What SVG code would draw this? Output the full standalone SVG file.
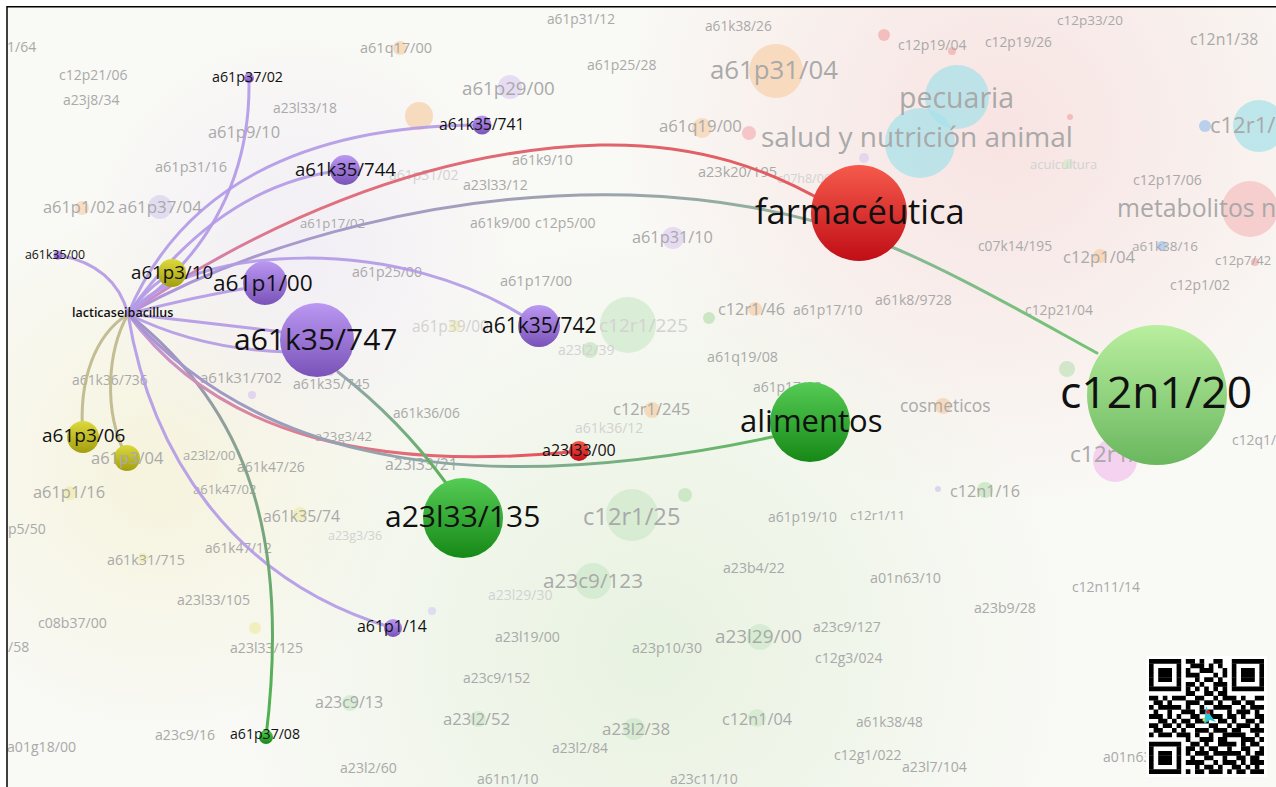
<svg xmlns="http://www.w3.org/2000/svg" width="1276" height="787" viewBox="0 0 1276 787">
<style>
.t{font-family:"Open Sans","Liberation Sans",Arial,sans-serif}
.f{fill:#a9a9a9}
.ff{fill:#d2d2d2}
.k{fill:#111}
.e{fill:none;stroke-linecap:round}
.pu{stroke:#b39ae6;stroke-width:3;opacity:.92}
.ol{stroke:#bcb78a;stroke-width:3;opacity:.9}
</style>
<defs>
<clipPath id="clip"><rect x="7" y="6" width="1269" height="781"/></clipPath>
<linearGradient id="gP" x1="0" y1="0" x2="0" y2="1"><stop offset="0" stop-color="#bb98f3"/><stop offset="1" stop-color="#7a52b8"/></linearGradient>
<linearGradient id="gY" x1="0" y1="0" x2="0" y2="1"><stop offset="0" stop-color="#dcd93c"/><stop offset="1" stop-color="#a39e10"/></linearGradient>
<linearGradient id="gG" x1="0" y1="0" x2="0" y2="1"><stop offset="0" stop-color="#55cc55"/><stop offset="1" stop-color="#168816"/></linearGradient>
<linearGradient id="gR" x1="0" y1="0" x2="0" y2="1"><stop offset="0" stop-color="#f65a4c"/><stop offset="1" stop-color="#c00e16"/></linearGradient>
<linearGradient id="gL" x1="0" y1="0" x2="0" y2="1"><stop offset="0" stop-color="#b9ef9f"/><stop offset="1" stop-color="#6ab75e"/></linearGradient>
<radialGradient id="hPink"><stop offset="0" stop-color="#f7dcdc" stop-opacity=".75"/><stop offset="1" stop-color="#f7dcdc" stop-opacity="0"/></radialGradient>
<radialGradient id="hYel"><stop offset="0" stop-color="#f4f1d2" stop-opacity=".7"/><stop offset="1" stop-color="#f4f1d2" stop-opacity="0"/></radialGradient>
<radialGradient id="hGrn"><stop offset="0" stop-color="#e4f1dc" stop-opacity=".8"/><stop offset="1" stop-color="#e4f1dc" stop-opacity="0"/></radialGradient>
<radialGradient id="hLav"><stop offset="0" stop-color="#efe9f6" stop-opacity=".7"/><stop offset="1" stop-color="#efe9f6" stop-opacity="0"/></radialGradient>
<linearGradient id="eGray" gradientUnits="userSpaceOnUse" x1="128" y1="314" x2="1097" y2="353"><stop offset="0" stop-color="#ad94de"/><stop offset=".45" stop-color="#9ea2b0"/><stop offset=".8" stop-color="#86b892"/><stop offset="1" stop-color="#72c472"/></linearGradient>
<linearGradient id="eAli" gradientUnits="userSpaceOnUse" x1="128" y1="314" x2="772" y2="437"><stop offset="0" stop-color="#a894d8"/><stop offset=".5" stop-color="#8fa6a4"/><stop offset="1" stop-color="#62b862"/></linearGradient>
<linearGradient id="eP37" gradientUnits="userSpaceOnUse" x1="128" y1="314" x2="266" y2="737"><stop offset="0" stop-color="#a592d0"/><stop offset=".3" stop-color="#8fa09a"/><stop offset="1" stop-color="#4cb24c"/></linearGradient>
<linearGradient id="eRed1" gradientUnits="userSpaceOnUse" x1="128" y1="314" x2="830" y2="205"><stop offset="0" stop-color="#c891d4"/><stop offset=".25" stop-color="#df7282"/><stop offset="1" stop-color="#e25a5e"/></linearGradient>
<linearGradient id="eRed2" gradientUnits="userSpaceOnUse" x1="128" y1="314" x2="570" y2="452"><stop offset="0" stop-color="#c39ad8"/><stop offset=".4" stop-color="#dd8090"/><stop offset="1" stop-color="#e8505a"/></linearGradient>
<linearGradient id="e747" gradientUnits="userSpaceOnUse" x1="338" y1="372" x2="446" y2="483"><stop offset="0" stop-color="#98a6ae"/><stop offset="1" stop-color="#5cb25c"/></linearGradient>
</defs>

<rect width="1276" height="787" fill="#ffffff"/>
<g clip-path="url(#clip)">
<rect x="7" y="6" width="1269" height="781" fill="#f9f9f5"/>
<g id="background-haze">
<circle cx="1000" cy="130" r="380" fill="url(#hPink)"/>
<circle cx="160" cy="470" r="260" fill="url(#hYel)"/>
<circle cx="650" cy="650" r="420" fill="url(#hGrn)"/>
<circle cx="300" cy="250" r="220" fill="url(#hLav)"/>
</g>

<g id="faded-nodes">
<g id="n-a61q17-00"><circle cx="400" cy="48" r="7" fill="#f6c89a" opacity=".6"/><circle cx="419" cy="116" r="14" fill="#f6c89a" opacity=".6"/><text class="t f" x="360" y="53" font-size="14.5">a61q17/00</text></g>
<g id="n-a61p31-04"><circle cx="776" cy="71" r="27" fill="#f7c998" opacity=".55"/><text class="t f" x="710" y="79" font-size="25.8">a61p31/04</text></g>
<g id="n-a61p29-00"><circle cx="510" cy="87" r="12" fill="#d8c8f2" opacity=".6"/><text class="t f" x="462" y="95" font-size="18.7">a61p29/00</text></g>
<g id="n-a61q19-00"><circle cx="702" cy="128" r="10" fill="#f6c89a" opacity=".55"/><circle cx="749" cy="133" r="7" fill="#f4a0a8" opacity=".55"/><text class="t f" x="659" y="132" font-size="16.7">a61q19/00</text></g>
<g id="n-a61p37-04"><circle cx="160" cy="207" r="12" fill="#d6cbef" opacity=".6"/><text class="t f" x="118" y="213" font-size="16.9">a61p37/04</text></g>
<g id="n-a61p1-02"><circle cx="82" cy="208" r="7" fill="#f6c89a" opacity=".55"/><text class="t f" x="43" y="213" font-size="16.4">a61p1/02</text></g>
<g id="n-pecuaria"><circle cx="957" cy="97" r="32" fill="#a9e2ea" opacity=".75"/><circle cx="920" cy="143" r="35" fill="#a9e2ea" opacity=".75"/><text class="t f" x="899" y="108" font-size="28.5">pecuaria</text></g>
<g id="n-salud"><text class="t f" x="761" y="147" font-size="28">salud y nutrición animal</text></g>
<g id="n-acuicultura"><circle cx="1068" cy="164" r="5" fill="#c8ecc0" opacity=".6"/><text class="t ff" x="1030" y="169" font-size="13">acuicultura</text></g>
<g id="n-c12r1-right"><circle cx="1259" cy="126" r="26" fill="#a9e2ea" opacity=".75"/><circle cx="1205" cy="126" r="6" fill="#a8c8ec" opacity=".8"/><text class="t f" x="1210" y="133" font-size="22">c12r1/</text></g>
<g id="n-metabolitos"><circle cx="1250" cy="209" r="28" fill="#f4c2c2" opacity=".75"/><text class="t f" x="1117" y="217" font-size="24.8">metabolitos n</text></g>
<g id="n-reddots"><circle cx="884" cy="35" r="6" fill="#f2a0a0" opacity=".6"/><circle cx="952" cy="51" r="4" fill="#f2a0a0" opacity=".6"/><circle cx="1070" cy="117" r="3" fill="#f2a0a0" opacity=".6"/><circle cx="1255" cy="262" r="4" fill="#f2a0a0" opacity=".6"/><circle cx="864" cy="158" r="5" fill="#d8c8f2" opacity=".6"/></g>
<g id="n-c12p1-04"><circle cx="1100" cy="256" r="7" fill="#f6c89a" opacity=".6"/><text class="t f" x="1063" y="263" font-size="16.7">c12p1/04</text></g>
<g id="n-a61k38-16"><circle cx="1162" cy="246" r="5" fill="#a8c8ec" opacity=".8"/><text class="t f" x="1132" y="251" font-size="13.5">a61k38/16</text></g>
<g id="n-a61p31-10"><circle cx="673" cy="238" r="11" fill="#d8c8f2" opacity=".6"/><text class="t f" x="632" y="243" font-size="16.3">a61p31/10</text></g>
<g id="n-c12r1-225"><circle cx="628" cy="325" r="28" fill="#c8e6c4" opacity=".6"/><text class="t ff" x="599" y="332" font-size="19">c12r1/225</text></g>
<g id="n-c12r1-46"><circle cx="755" cy="309" r="7" fill="#f6c89a" opacity=".6"/><circle cx="709" cy="318" r="6" fill="#b8e0b0" opacity=".7"/><text class="t f" x="718" y="315" font-size="16.3">c12r1/46</text></g>
<g id="n-a61p39-00"><circle cx="455" cy="326" r="6" fill="#eeeaa0" opacity=".6"/><text class="t ff" x="412" y="332" font-size="15.5">a61p39/00</text></g>
<g id="n-a23l2-39"><circle cx="590" cy="350" r="8" fill="#b8e0b0" opacity=".55"/><text class="t ff" x="558" y="355" font-size="14">a23l2/39</text></g>
<g id="n-c12r1-245"><circle cx="652" cy="410" r="8" fill="#f6c89a" opacity=".6"/><text class="t f" x="613" y="415" font-size="16.5">c12r1/245</text></g>
<g id="n-cosmeticos"><circle cx="943" cy="406" r="8" fill="#f6c89a" opacity=".6"/><text class="t f" x="900" y="412" font-size="17.4">cosmeticos</text></g>
<g id="n-c12r1-01"><circle cx="1115" cy="460" r="22" fill="#f2c6ef" opacity=".75"/><text class="t f" x="1070" y="462" font-size="22.7">c12r1/01</text></g>
<g id="n-c12n1-16"><circle cx="985" cy="490" r="8" fill="#b8e0b0" opacity=".6"/><circle cx="938" cy="489" r="3" fill="#c8c0ec" opacity=".6"/><text class="t f" x="950" y="497" font-size="16.2">c12n1/16</text></g>
<g id="n-c12r1-25"><circle cx="632" cy="515" r="26" fill="#c8e6c4" opacity=".6"/><circle cx="685" cy="495" r="7" fill="#b8e0b0" opacity=".6"/><text class="t f" x="583" y="525" font-size="23.7">c12r1/25</text></g>
<g id="n-c12n-green"><circle cx="1067" cy="369" r="8" fill="#b8e0b0" opacity=".6"/></g>
<g id="n-a23c9-123"><circle cx="593" cy="581" r="18" fill="#c8e6c4" opacity=".6"/><text class="t f" x="543" y="588" font-size="20.7">a23c9/123</text></g>
<g id="n-a23l29-00"><circle cx="760" cy="637" r="13" fill="#c8e6c4" opacity=".6"/><text class="t f" x="715" y="643" font-size="18.9">a23l29/00</text></g>
<g id="n-c12n1-04"><circle cx="757" cy="718" r="9" fill="#c8e6c4" opacity=".6"/><text class="t f" x="722" y="725" font-size="16.2">c12n1/04</text></g>
<g id="n-a23l2-38"><circle cx="634" cy="729" r="11" fill="#c8e6c4" opacity=".6"/><text class="t f" x="602" y="735" font-size="16.9">a23l2/38</text></g>
<g id="n-a23l2-52"><circle cx="478" cy="719" r="8" fill="#c8e6c4" opacity=".6"/><text class="t f" x="443" y="725" font-size="16.6">a23l2/52</text></g>
<g id="n-a23c9-13"><circle cx="350" cy="703" r="8" fill="#c8e6c4" opacity=".6"/><text class="t f" x="315" y="708" font-size="16">a23c9/13</text></g>
<g id="n-a61p1-16"><circle cx="70" cy="493" r="7" fill="#eeeaa0" opacity=".6"/><text class="t f" x="33" y="498" font-size="16.4">a61p1/16</text></g>
<g id="n-a61k31-715"><circle cx="143" cy="558" r="5" fill="#eeeaa0" opacity=".6"/><text class="t f" x="107" y="565" font-size="14.3">a61k31/715</text></g>
<g id="n-a61k35-74"><circle cx="300" cy="514" r="7" fill="#eeeaa0" opacity=".6"/><text class="t f" x="263" y="522" font-size="15.8">a61k35/74</text></g>
<g id="n-a61k35-745"><circle cx="330" cy="372" r="4" fill="#d8c8f2" opacity=".7"/><circle cx="252" cy="395" r="4" fill="#d8c8f2" opacity=".7"/><text class="t f" x="293" y="389" font-size="14.1">a61k35/745</text></g>
<g id="n-a23l33-125"><circle cx="255" cy="628" r="6" fill="#eeeaa0" opacity=".6"/><text class="t f" x="230" y="653" font-size="14.1">a23l33/125</text></g>
<g id="n-pale"><circle cx="432" cy="611" r="4" fill="#d8d0f2" opacity=".7"/></g>
</g>

<g id="faded-labels">
<text class="t f" x="7" y="52" font-size="14">1/64</text>
<text class="t f" x="59" y="80" font-size="14">c12p21/06</text>
<text class="t f" x="63" y="105" font-size="14">a23j8/34</text>
<text class="t f" x="547" y="24" font-size="13.7">a61p31/12</text>
<text class="t f" x="705" y="31" font-size="13.7">a61k38/26</text>
<text class="t f" x="1057" y="25" font-size="13.5">c12p33/20</text>
<text class="t f" x="898" y="50" font-size="14">c12p19/04</text>
<text class="t f" x="985" y="47" font-size="13.7">c12p19/26</text>
<text class="t f" x="1190" y="45" font-size="15.8">c12n1/38</text>
<text class="t f" x="587" y="70" font-size="14">a61p25/28</text>
<text class="t f" x="273" y="113" font-size="13.9">a23l33/18</text>
<text class="t f" x="208" y="138" font-size="16.4">a61p9/10</text>
<text class="t f" x="155" y="172" font-size="14.5">a61p31/16</text>
<text class="t f" x="512" y="165" font-size="14.1">a61k9/10</text>
<text class="t f" x="698" y="177" font-size="14.5">a23k20/195</text>
<text class="t ff" x="777" y="183" font-size="12.5">c07h8/06</text>
<text class="t f" x="1133" y="185" font-size="14.1">c12p17/06</text>
<text class="t ff" x="389" y="180" font-size="14">a61p31/02</text>
<text class="t f" x="463" y="190" font-size="14.1">a23l33/12</text>
<text class="t f" x="300" y="228" font-size="13.1">a61p17/02</text>
<text class="t f" x="470" y="228" font-size="14">a61k9/00</text>
<text class="t f" x="535" y="228" font-size="14">c12p5/00</text>
<text class="t f" x="978" y="251" font-size="13.8">c07k14/195</text>
<text class="t f" x="1215" y="265" font-size="13">c12p7/42</text>
<text class="t f" x="1170" y="290" font-size="13.9">c12p1/02</text>
<text class="t f" x="352" y="277" font-size="14.1">a61p25/00</text>
<text class="t f" x="500" y="286" font-size="14.5">a61p17/00</text>
<text class="t f" x="875" y="305" font-size="14.1">a61k8/9728</text>
<text class="t f" x="1025" y="315" font-size="13.9">c12p21/04</text>
<text class="t f" x="793" y="315" font-size="14">a61p17/10</text>
<text class="t f" x="707" y="362" font-size="14.3">a61q19/08</text>
<text class="t f" x="753" y="392" font-size="13.9">a61p17/18</text>
<text class="t f" x="72" y="385" font-size="13.9">a61k36/736</text>
<text class="t f" x="200" y="383" font-size="15">a61k31/702</text>
<text class="t f" x="393" y="418" font-size="13.7">a61k36/06</text>
<text class="t ff" x="575" y="433" font-size="14">a61k36/12</text>
<text class="t f" x="315" y="441" font-size="13.2">a23g3/42</text>
<text class="t f" x="183" y="460" font-size="13">a23l2/00</text>
<text class="t f" x="237" y="472" font-size="13.9">a61k47/26</text>
<text class="t f" x="385" y="470" font-size="15.8">a23l33/21</text>
<text class="t f" x="1232" y="445" font-size="13.9">c12q1/</text>
<text class="t f" x="193" y="494" font-size="13">a61k47/02</text>
<text class="t f" x="768" y="522" font-size="13.9">a61p19/10</text>
<text class="t f" x="850" y="520" font-size="13.4">c12r1/11</text>
<text class="t f" x="8" y="534" font-size="14">p5/50</text>
<text class="t ff" x="328" y="540" font-size="12.5">a23g3/36</text>
<text class="t f" x="205" y="553" font-size="13.7">a61k47/12</text>
<text class="t f" x="723" y="573" font-size="14.1">a23b4/22</text>
<text class="t f" x="870" y="583" font-size="14.3">a01n63/10</text>
<text class="t f" x="1072" y="592" font-size="13.9">c12n11/14</text>
<text class="t ff" x="488" y="600" font-size="14">a23l29/30</text>
<text class="t f" x="974" y="613" font-size="14.1">a23b9/28</text>
<text class="t f" x="177" y="605" font-size="14.1">a23l33/105</text>
<text class="t f" x="38" y="628" font-size="14.1">c08b37/00</text>
<text class="t f" x="8" y="652" font-size="14">/58</text>
<text class="t f" x="495" y="642" font-size="14.1">a23l19/00</text>
<text class="t f" x="632" y="653" font-size="14.1">a23p10/30</text>
<text class="t f" x="813" y="632" font-size="14">a23c9/127</text>
<text class="t f" x="815" y="663" font-size="14">c12g3/024</text>
<text class="t f" x="463" y="683" font-size="13.9">a23c9/152</text>
<text class="t f" x="155" y="740" font-size="14.1">a23c9/16</text>
<text class="t f" x="7" y="752" font-size="14.1">a01g18/00</text>
<text class="t f" x="552" y="753" font-size="13.9">a23l2/84</text>
<text class="t f" x="856" y="727" font-size="13.7">a61k38/48</text>
<text class="t f" x="834" y="760" font-size="14">c12g1/022</text>
<text class="t f" x="902" y="772" font-size="14.1">a23l7/104</text>
<text class="t f" x="1103" y="762" font-size="14">a01n63/10</text>
<text class="t f" x="340" y="773" font-size="14.1">a23l2/60</text>
<text class="t f" x="477" y="784" font-size="14">a61n1/10</text>
<text class="t f" x="670" y="784" font-size="14">a23c11/10</text>
</g>
</g>

<g id="connectors" clip-path="url(#clip)">
<path class="e" stroke="url(#eGray)" stroke-width="3" d="M128,314 C260,240 450,190 630,195 C720,198 790,212 860,235 S1040,322 1097,353"/>
<path class="e" stroke="url(#eRed1)" stroke-width="3" d="M128,314 C250,230 420,150 600,145 C700,143 770,170 830,205"/>
<path class="e pu" stroke-width="3.5" d="M128,314 C180,190 300,125 482,125"/>
<path class="e pu" d="M128,314 C180,240 250,180 345,170"/>
<path class="e pu" d="M128,314 C215,250 250,170 249,82"/>
<path class="e pu" d="M128,314 Q115,265 58,255"/>
<path class="e pu" stroke-width="3.5" d="M128,314 Q150,285 172,273"/>
<path class="e pu" d="M128,314 Q200,295 265,285"/>
<path class="e pu" d="M128,314 C190,245 400,230 539,326"/>
<path class="e pu" d="M128,314 Q200,322 282,332"/>
<path class="e pu" d="M128,314 Q200,350 290,352"/>
<path class="e pu" d="M128,314 C150,450 230,580 393,628"/>
<path class="e ol" d="M128,314 C95,335 78,380 83,437"/>
<path class="e ol" d="M128,314 C108,350 102,410 127,458"/>
<path class="e" stroke="url(#eP37)" stroke-width="3" d="M128,314 C250,410 290,540 266,737"/>
<path class="e" stroke="url(#eRed2)" stroke-width="3" d="M128,314 C220,440 380,470 570,452"/>
<path class="e" stroke="url(#eAli)" stroke-width="3" d="M128,314 C240,440 430,510 772,437"/>
<path class="e" stroke="url(#e747)" stroke-width="3" d="M338,372 Q400,420 446,483"/>
</g>

<g id="node-a61p37-02"><circle cx="249" cy="78" r="5" fill="url(#gP)"/><text class="t k" x="212" y="81.5" font-size="14.3">a61p37/02</text></g>
<g id="node-a61k35-741"><circle cx="482" cy="125" r="9.5" fill="url(#gP)"/><text class="t k" x="439" y="130" font-size="15.7">a61k35/741</text></g>
<g id="node-a61k35-744"><circle cx="345" cy="170" r="15" fill="url(#gP)"/><text class="t k" x="295" y="176" font-size="18.5">a61k35/744</text></g>
<g id="node-a61k35-00"><circle cx="58" cy="255" r="4.5" fill="url(#gP)"/><text class="t k" x="25" y="259" font-size="12.3">a61k35/00</text></g>
<g id="node-a61p3-10"><circle cx="172" cy="273" r="14" fill="url(#gY)"/><text class="t k" x="131" y="279" font-size="18.7">a61p3/10</text></g>
<g id="node-a61p1-00"><circle cx="265" cy="283" r="22" fill="url(#gP)"/><text class="t k" x="213" y="291" font-size="22.7">a61p1/00</text></g>
<g id="node-lacticaseibacillus"><text class="t k" x="72" y="317" font-size="12.5" font-weight="600">lacticaseibacillus</text></g>
<g id="node-a61k35-747"><circle cx="317" cy="340" r="37" fill="url(#gP)"/><text class="t k" x="234" y="350" font-size="30">a61k35/747</text></g>
<g id="node-a61k35-742"><circle cx="539" cy="326" r="21" fill="url(#gP)"/><text class="t k" x="482" y="333" font-size="21">a61k35/742</text></g>
<g id="node-a61p3-06"><circle cx="83" cy="437" r="16" fill="url(#gY)"/><text class="t k" x="42" y="442" font-size="19">a61p3/06</text></g>
<g id="node-a61p3-04"><circle cx="127" cy="458" r="13" fill="url(#gY)"/><text class="t f" x="91" y="464" font-size="16.5">a61p3/04</text></g>
<g id="node-a23l33-00"><circle cx="579" cy="451" r="10" fill="url(#gR)"/><text class="t k" x="542" y="456" font-size="16">a23l33/00</text></g>
<g id="node-a23l33-135"><circle cx="463" cy="518" r="40" fill="url(#gG)"/><text class="t k" x="385" y="527" font-size="30">a23l33/135</text></g>
<g id="node-alimentos"><circle cx="810" cy="422" r="40" fill="url(#gG)"/><text class="t k" x="740" y="432" font-size="31">alimentos</text></g>
<g id="node-farmaceutica"><circle cx="859" cy="213" r="48" fill="url(#gR)"/><text class="t k" x="755" y="224" font-size="34.5">farmacéutica</text></g>
<g id="node-c12n1-20"><circle cx="1157" cy="395" r="70" fill="url(#gL)"/><text class="t k" x="1060" y="408" font-size="44.5">c12n1/20</text></g>
<g id="node-a61p1-14"><circle cx="393" cy="628" r="9" fill="url(#gP)"/><text class="t k" x="357" y="632" font-size="15.9">a61p1/14</text></g>
<g id="node-a61p37-08"><circle cx="266" cy="737" r="7" fill="url(#gG)"/><text class="t k" x="230" y="739" font-size="14.1">a61p37/08</text></g>

<g id="qr-code">
<rect x="1146" y="656" width="121" height="121" fill="#ffffff"/>
<g transform="translate(1149,659) scale(4.6)" stroke="#000" stroke-width="1.04" fill="none">
<path d="M0 0.5h25" stroke-dasharray="7 1 2 1 1 2 2 2 7 0"/>
<path d="M0 1.5h25" stroke-dasharray="1 5 1 2 3 1 1 1 1 2 1 5 1 0"/>
<path d="M0 2.5h25" stroke-dasharray="1 1 3 1 1 1 1 2 3 2 1 1 1 1 3 1 1 0"/>
<path d="M0 3.5h25" stroke-dasharray="1 1 3 1 1 1 3 3 1 1 1 1 1 1 3 1 1 0"/>
<path d="M0 4.5h25" stroke-dasharray="1 1 3 1 1 3 1 1 2 1 1 2 1 1 3 1 1 0"/>
<path d="M0 5.5h25" stroke-dasharray="1 5 1 1 2 1 1 2 3 1 1 5 1 0"/>
<path d="M0 6.5h25" stroke-dasharray="7 1 1 1 1 1 1 1 1 1 1 1 7 0"/>
<path d="M0 7.5h25" stroke-dasharray="0 8 2 2 2 1 2 8"/>
<path d="M0 8.5h25" stroke-dasharray="2 1 1 1 3 2 2 2 1 1 3 1 1 2 2 0"/>
<path d="M0 9.5h25" stroke-dasharray="0 1 2 1 1 3 3 1 2 1 1 2 2 1 2 2"/>
<path d="M0 10.5h25" stroke-dasharray="1 1 5 1 1 2 1 2 4 2 1 1 3 0"/>
<path d="M0 11.5h25" stroke-dasharray="0 1 1 2 1 2 3 1 3 3 1 1 3 1 1 1"/>
<path d="M0 12.5h25" stroke-dasharray="3 1 1 1 1 2 2 2 3 1 2 1 1 2 2 0"/>
<path d="M0 13.5h25" stroke-dasharray="0 2 2 1 1 1 2 1 3 2 2 1 1 2 2 1 1 0"/>
<path d="M0 14.5h25" stroke-dasharray="2 1 2 1 1 1 2 3 2 2 1 1 3 1 1 1"/>
<path d="M0 15.5h25" stroke-dasharray="0 1 2 2 1 1 1 2 3 1 3 1 2 2 3 0"/>
<path d="M0 16.5h25" stroke-dasharray="1 1 3 1 3 1 1 2 1 2 5 2 1 1"/>
<path d="M0 17.5h25" stroke-dasharray="0 8 1 2 3 1 2 3 3 1 1 0"/>
<path d="M0 18.5h25" stroke-dasharray="7 2 2 1 1 2 4 1 1 1 2 1"/>
<path d="M0 19.5h25" stroke-dasharray="1 5 1 1 2 1 1 1 2 2 1 2 2 2 1 0"/>
<path d="M0 20.5h25" stroke-dasharray="1 1 3 1 1 1 1 1 3 1 6 1 1 1 2 0"/>
<path d="M0 21.5h25" stroke-dasharray="1 1 3 1 1 2 1 2 2 2 1 2 2 1 2 1"/>
<path d="M0 22.5h25" stroke-dasharray="1 1 3 1 1 1 4 2 1 1 3 1 1 1 3 0"/>
<path d="M0 23.5h25" stroke-dasharray="1 5 1 3 1 1 2 1 1 2 2 1 1 1 1 1"/>
<path d="M0 24.5h25" stroke-dasharray="7 1 1 1 2 1 3 1 1 1 2 1 3 0"/>
</g>
<path d="M1206,706 L1211,716 L1216,722 L1210,720 L1204,724 Z" fill="#29c6d8"/>
<circle cx="1208" cy="712" r="2" fill="#e02020"/>
<circle cx="1204" cy="720" r="1.6" fill="#e8d020"/>
</g>

<path d="M7,787 V6.75 H1276" fill="none" stroke="#000" stroke-width="1.5"/>
</svg>
